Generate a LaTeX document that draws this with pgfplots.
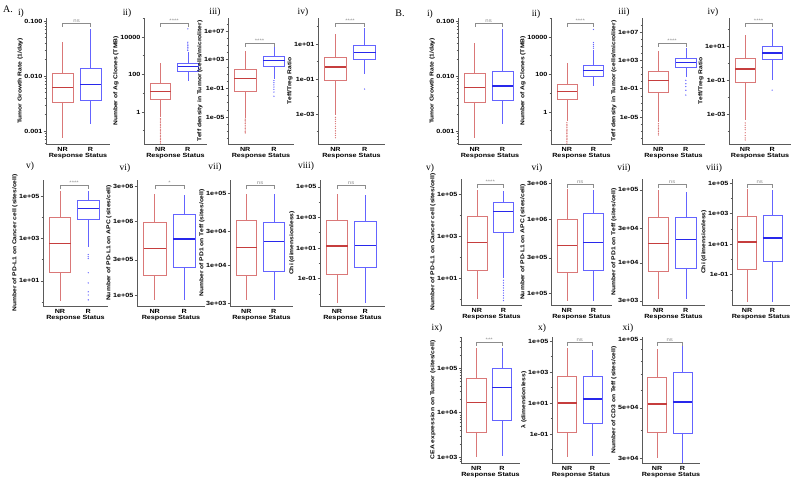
\documentclass[border=0pt]{standalone}
\usepackage{fontspec}
\setmainfont[FakeStretch=1.2]{Liberation Sans}
\newfontfamily\serf{Liberation Serif}
\usepackage{pgfplots}
\pgfplotsset{compat=1.18}
\usepgfplotslibrary{statistics}
\definecolor{nrc}{RGB}{218,120,120}
\definecolor{nrd}{RGB}{198,62,62}
\definecolor{rc}{RGB}{100,100,255}
\definecolor{rd}{RGB}{40,40,235}
\definecolor{sigc}{RGB}{140,140,140}
\definecolor{axc}{RGB}{90,90,90}
% values are log10 of the plotted quantities; tick labels give the original scale
\pgfplotsset{
 pan/.style={anchor=south west, scale only axis, height=126pt,
   xmin=0.4, xmax=2.7, xtick={1,2}, xticklabels={NR,R}, xlabel={Response Status},
   axis x line*=bottom, axis y line*=left,
   axis line style={-, axc, line width=0.5pt},
   tick align=outside, major tick length=2.4pt, minor tick length=1.3pt,
   xtick style={draw=none}, ytick style={axc, line width=0.4pt},
   ticklabel style={font=\bfseries\fontsize{6}{6}\selectfont, inner sep=1pt},
   xlabel style={font=\bfseries\fontsize{6}{6}\selectfont, inner sep=0.5pt},
   ylabel style={font=\bfseries\fontsize{5.6}{6}\selectfont, inner sep=0.5pt},
   boxplot/draw direction=y,
   clip=false},
 nr/.style={color=nrc, draw=nrc, line width=0.6pt, boxplot/draw direction=y, boxplot/box extend=0.75, boxplot/whisker extend=0,
   boxplot/every median/.style={draw=nrd, line width=1.1pt}},
 rr/.style={color=rc, draw=rc, line width=0.6pt, boxplot/draw direction=y, boxplot/box extend=0.75, boxplot/whisker extend=0,
   boxplot/every median/.style={draw=rd, line width=1.1pt}},
 nro/.style={color=nrc, only marks, mark=*, mark size=0.4pt, mark options={draw=none, fill=nrc, fill opacity=0.6}},
 ro/.style={color=rc, only marks, mark=*, mark size=0.4pt, mark options={draw=none, fill=rc, fill opacity=0.6}},
}
\newcommand{\bNR}[5]{\addplot[nr, boxplot prepared={draw position=1, lower whisker=#1, lower quartile=#2, median=#3, upper quartile=#4, upper whisker=#5}] coordinates {};}
\newcommand{\bR}[5]{\addplot[rr, boxplot prepared={draw position=2, lower whisker=#1, lower quartile=#2, median=#3, upper quartile=#4, upper whisker=#5}] coordinates {};}
\newcommand{\sig}[3]{%
 \draw[sigc, line width=0.4pt] (rel axis cs:0.2609,#3) -- (rel axis cs:0.2609,#2) -- (rel axis cs:0.6957,#2) -- (rel axis cs:0.6957,#3);
 \node[sigc, font=\fontsize{5}{5}\selectfont, anchor=south, inner sep=0.6pt] at (rel axis cs:0.4783,#2) {#1};}
\newcommand{\plab}[3]{\node[font=\serf\fontsize{9.5}{10}\selectfont, inner sep=0pt] at (#1pt,-#2pt) {#3};}
\begin{document}
\begin{tikzpicture}
\useasboundingbox (0,0) rectangle (792pt,-480pt);
\node[font=\serf\fontsize{10}{10}\selectfont, inner sep=0pt] at (8pt,-9pt) {A.};
\node[font=\serf\fontsize{10}{10}\selectfont, inner sep=0pt] at (400pt,-13pt) {B.};
\plab{21}{13}{i)}\plab{127}{13}{ii)}\plab{215}{12}{iii)}\plab{303}{12}{iv)}
\plab{30}{166}{v)}\plab{125}{168}{vi)}\plab{215}{167}{vii)}\plab{306}{166}{viii)}
\plab{430}{14}{i)}\plab{536}{14}{ii)}\plab{624}{12}{iii)}\plab{713}{12}{iv)}
\plab{430}{168}{v)}\plab{537}{168}{vi)}\plab{624}{168}{vii)}\plab{714}{168}{viii)}
\plab{437}{328}{ix)}\plab{542}{328}{x)}\plab{628}{328}{xi)}

% ---------------- A i
\begin{axis}[pan, at={(46pt,-144pt)}, width=64pt, ymin=-3.236, ymax=-0.945,
  ytick={-3,-2,-1}, yticklabels={0.001,0.010,0.100},
  minor ytick={-3.222,-3.155,-3.097,-3.046,-2.699,-2.523,-2.398,-2.301,-2.222,-2.155,-2.097,-2.046,-1.699,-1.523,-1.398,-1.301,-1.222,-1.155,-1.097,-1.046},
  ylabel={Tumor Growth Rate (1/day)}]
\bNR{-3.131}{-2.469}{-2.201}{-1.947}{-1.387}
\bR{-2.870}{-2.444}{-2.161}{-1.854}{-1.149}
\sig{ns}{0.96}{0.93}
\end{axis}
% ---------------- A ii
\begin{axis}[pan, at={(144pt,-144pt)}, width=63pt, ymin=-1.71, ymax=5.01,
  ytick={0,2,4}, yticklabels={1,100,10000}, minor ytick={-1,1,3,5},
  ylabel={Number of Ag Clones (TMB)}]
\bNR{-0.27}{0.70}{1.11}{1.54}{2.61}
\addplot[nro] coordinates {(1,-0.35)(1,-0.42)(1,-0.49)(1,-0.57)(1,-0.66)(1,-0.74)(1,-0.82)(1,-0.92)(1,-1.0)(1,-1.07)(1,-1.15)(1,-1.24)(1,-1.32)(1,-1.4)(1,-1.48)(1,-1.57)(1,-1.66)};
\bR{1.65}{2.19}{2.40}{2.60}{3.20}
\addplot[ro] coordinates {(2,3.28)(2,3.36)(2,3.45)(2,3.53)(2,3.62)(2,3.72)(2,4.43)};
\sig{****}{0.96}{0.93}
\end{axis}
% ---------------- A iii
\begin{axis}[pan, at={(228pt,-144pt)}, width=66pt, ymin=-8.77, ymax=8.81,
  ytick={-5,-1,3,7}, yticklabels={1e-05,1e-01,1e+03,1e+07},
  minor ytick={-8,-7,-6,-4,-3,-2,0,1,2,4,5,6,8},
  ylabel={Teff density in Tumor (cells/microliter)}]
\bNR{-5.1}{-1.42}{0.35}{1.60}{4.26}
\addplot[nro] coordinates {(1,-5.3)(1,-5.52)(1,-5.7)(1,-5.92)(1,-6.15)(1,-6.4)(1,-6.6)(1,-6.82)(1,-7.05)(1,-7.22)};
\bR{0.35}{2.02}{2.86}{3.40}{4.80}
\addplot[ro] coordinates {(2,0.08)(2,-0.22)(2,-0.52)(2,-0.82)(2,-1.15)(2,-1.52)(2,-2.1)};
\sig{****}{0.80}{0.77}
\end{axis}
% ---------------- A iv
\begin{axis}[pan, at={(318pt,-144pt)}, width=67pt, ymin=-4.71, ymax=2.49,
  ytick={-3,-1,1}, yticklabels={1e-03,1e-01,1e+01}, minor ytick={-4,-2,0,2},
  ylabel={Teff/Treg Ratio}]
\bNR{-3.06}{-1.06}{-0.31}{0.26}{1.57}
\addplot[nro] coordinates {(1,-3.19)(1,-3.3)(1,-3.42)(1,-3.55)(1,-3.7)(1,-3.82)(1,-3.96)(1,-4.1)(1,-4.22)(1,-4.35)};
\bR{-0.71}{0.14}{0.54}{0.94}{1.91}
\addplot[ro] coordinates {(2,-1.57)};
\sig{****}{0.96}{0.93}
\end{axis}
% ---------------- A v
\begin{axis}[pan, at={(43pt,-306pt)}, width=65pt, ymin=-0.19, ymax=5.76,
  ytick={1,3,5}, yticklabels={1e+01,1e+03,1e+05}, minor ytick={0,2,4},
  ylabel={Number of PD-L1 on Cancer cell (sites/cell)}]
\bNR{0.05}{1.38}{2.76}{4.0}{5.24}
\bR{2.62}{3.9}{4.43}{4.81}{5.24}
\addplot[ro] coordinates {(2,2.24)(2,2.14)(2,2.05)(2,1.38)(2,0.90)(2,0.48)(2,0.33)(2,0.10)};
\sig{****}{0.955}{0.925}
\end{axis}
% ---------------- A vi
\begin{axis}[pan, at={(137pt,-306pt)}, width=68pt, ymin=4.85, ymax=6.56,
  ytick={5,5.477,6,6.477}, yticklabels={1e+05,3e+05,1e+06,3e+06},
  ylabel={Number of PD-L1 on APC (sites/cell)}]
\bNR{4.93}{5.26}{5.63}{5.986}{6.37}
\bR{4.93}{5.37}{5.76}{6.09}{6.36}
\sig{*}{0.955}{0.925}
\end{axis}
% ---------------- A vii
\begin{axis}[pan, at={(230pt,-306pt)}, width=63pt, ymin=3.44, ymax=5.19,
  ytick={3.477,4,4.477,5}, yticklabels={3e+03,1e+04,3e+04,1e+05},
  ylabel={Number of PD1 on Teff (sites/cell)}]
\bNR{3.52}{3.86}{4.25}{4.63}{5.0}
\bR{3.52}{3.92}{4.33}{4.60}{4.99}
\sig{ns}{0.955}{0.925}
\end{axis}
% ---------------- A viii
\begin{axis}[pan, at={(320pt,-306pt)}, width=65pt, ymin=-2.8, ymax=5.45,
  ytick={-1,1,3,5}, yticklabels={1e-01,1e+01,1e+03,1e+05}, minor ytick={-2,0,2,4},
  ylabel={Chi (dimensionless)}]
\bNR{-2.6}{-0.74}{1.13}{2.8}{4.55}
\bR{-2.6}{-0.29}{1.19}{2.74}{4.48}
\sig{ns}{0.955}{0.925}
\end{axis}

% ================= B
\begin{axis}[pan, at={(458pt,-144pt)}, width=64pt, ymin=-3.236, ymax=-0.945,
  ytick={-3,-2,-1}, yticklabels={0.001,0.010,0.100},
  minor ytick={-3.222,-3.155,-3.097,-3.046,-2.699,-2.523,-2.398,-2.301,-2.222,-2.155,-2.097,-2.046,-1.699,-1.523,-1.398,-1.301,-1.222,-1.155,-1.097,-1.046},
  ylabel={Tumor Growth Rate (1/day)}]
\bNR{-3.131}{-2.469}{-2.215}{-1.947}{-1.398}
\bR{-2.870}{-2.444}{-2.181}{-1.910}{-1.149}
\sig{ns}{0.96}{0.93}
\end{axis}
% ---------------- B ii
\begin{axis}[pan, at={(551pt,-144pt)}, width=61pt, ymin=-1.71, ymax=5.01,
  ytick={0,2,4}, yticklabels={1,100,10000}, minor ytick={-1,1,3,5},
  ylabel={Number of Ag Clones (TMB)}]
\bNR{-0.5}{0.70}{1.10}{1.45}{2.60}
\addplot[nro] coordinates {(1,-0.57)(1,-0.66)(1,-0.74)(1,-0.82)(1,-0.92)(1,-1.0)(1,-1.07)(1,-1.15)(1,-1.24)(1,-1.32)(1,-1.4)(1,-1.48)(1,-1.57)(1,-1.66)};
\bR{1.40}{1.92}{2.19}{2.50}{3.30}
\addplot[ro] coordinates {(2,3.4)(2,3.5)(2,3.6)(2,3.7)(2,4.4)};
\sig{****}{0.96}{0.93}
\end{axis}
% ---------------- B iii
\begin{axis}[pan, at={(642pt,-144pt)}, width=63pt, ymin=-8.8, ymax=8.97,
  ytick={-5,-1,3,7}, yticklabels={1e-05,1e-01,1e+03,1e+07},
  minor ytick={-8,-7,-6,-4,-3,-2,0,1,2,4,5,6,8},
  ylabel={Teff density in Tumor (cells/microliter)}]
\bNR{-5.7}{-1.5}{0.18}{1.45}{4.27}
\addplot[nro] coordinates {(1,-5.92)(1,-6.15)(1,-6.4)(1,-6.6)(1,-6.82)(1,-7.05)(1,-7.3)(1,-7.52)};
\bR{0.7}{2.0}{2.7}{3.3}{4.8}
\addplot[ro] coordinates {(2,0.18)(2,-0.3)(2,-0.7)(2,-1.22)(2,-1.9)};
\sig{****}{0.80}{0.77}
\end{axis}
% ---------------- B iv
\begin{axis}[pan, at={(729pt,-144pt)}, width=62pt, ymin=-4.76, ymax=2.65,
  ytick={-3,-1,1}, yticklabels={1e-03,1e-01,1e+01}, minor ytick={-4,-2,0,2},
  ylabel={Teff/Treg Ratio}]
\bNR{-3.35}{-1.12}{-0.35}{0.29}{1.65}
\addplot[nro] coordinates {(1,-3.52)(1,-3.66)(1,-3.8)(1,-3.92)(1,-4.1)(1,-4.26)(1,-4.4)(1,-4.52)};
\bR{-1.0}{0.24}{0.59}{1.0}{2.0}
\addplot[ro] coordinates {(2,-1.59)};
\sig{****}{0.96}{0.93}
\end{axis}
% ---------------- B v
\begin{axis}[pan, at={(461pt,-305pt)}, width=61pt, ymin=-0.27, ymax=5.71,
  ytick={1,3,5}, yticklabels={1e+01,1e+03,1e+05}, minor ytick={0,2,4},
  ylabel={Number of PD-L1 on Cancer cell (sites/cell)}]
\bNR{0.0}{1.37}{2.7}{3.96}{5.19}
\bR{1.0}{3.2}{4.15}{4.62}{5.14}
\addplot[ro] coordinates {(2,0.9)(2,0.78)(2,0.66)(2,0.54)(2,0.42)(2,0.3)(2,0.18)(2,0.06)(2,-0.06)};
\sig{****}{0.955}{0.925}
\end{axis}
% ---------------- B vi
\begin{axis}[pan, at={(551pt,-305pt)}, width=61pt, ymin=4.84, ymax=6.54,
  ytick={5,5.477,6,6.477}, yticklabels={1e+05,3e+05,1e+06,3e+06},
  ylabel={Number of PD-L1 on APC (sites/cell)}]
\bNR{4.9}{5.28}{5.64}{6.0}{6.40}
\bR{4.9}{5.31}{5.68}{6.08}{6.39}
\sig{ns}{0.955}{0.925}
\end{axis}
% ---------------- B vii
\begin{axis}[pan, at={(642pt,-305pt)}, width=63pt, ymin=3.42, ymax=5.15,
  ytick={3.477,4,4.477,5}, yticklabels={3e+03,1e+04,3e+04,1e+05},
  ylabel={Number of PD1 on Teff (sites/cell)}]
\bNR{3.5}{3.88}{4.26}{4.62}{5.0}
\bR{3.5}{3.93}{4.32}{4.62}{4.97}
\sig{ns}{0.955}{0.925}
\end{axis}
% ---------------- B viii
\begin{axis}[pan, at={(732pt,-305pt)}, width=58pt, ymin=-3.0, ymax=5.26,
  ytick={-1,1,3,5}, yticklabels={1e-01,1e+01,1e+03,1e+05}, minor ytick={-2,0,2,4},
  ylabel={Chi (dimensionless)}]
\bNR{-2.8}{-0.68}{1.13}{2.8}{4.6}
\bR{-2.8}{-0.16}{1.39}{2.87}{4.55}
\sig{ns}{0.955}{0.925}
\end{axis}
% ---------------- B ix
\begin{axis}[pan, at={(461pt,-463pt)}, width=59pt, ymin=2.87, ymax=5.7,
  ytick={3,4,5}, yticklabels={1e+03,1e+04,1e+05},
  minor ytick={2.903,2.954,3.301,3.477,3.602,3.699,3.778,3.845,3.903,3.954,4.301,4.477,4.602,4.699,4.778,4.845,4.903,4.954,5.301,5.477,5.602,5.699},
  ylabel={CEA expression on Tumor (sites/cell)}]
\bNR{3.0}{3.57}{4.22}{4.78}{5.45}
\bR{3.02}{3.82}{4.56}{5.0}{5.45}
\sig{***}{0.96}{0.93}
\end{axis}
% ---------------- B x
\begin{axis}[pan, at={(552pt,-463pt)}, width=58pt, ymin=-2.87, ymax=5.26,
  ytick={-1,1,3,5}, yticklabels={1e-01,1e+01,1e+03,1e+05}, minor ytick={-2,0,2,4},
  ylabel={λ (dimensionless)}]
\bNR{-2.48}{-0.87}{1.0}{2.74}{4.55}
\bR{-2.42}{-0.29}{1.26}{2.74}{4.42}
\sig{ns}{0.96}{0.93}
\end{axis}
% ---------------- B xi
\begin{axis}[pan, at={(642pt,-463pt)}, width=58pt, ymin=4.458, ymax=5.009,
  ytick={4.477,4.699,5}, yticklabels={3e+04,5e+04,1e+05},
  minor ytick={4.602,4.778,4.845,4.903,4.954},
  ylabel={Number of CD3 on Teff (sites/cell)}]
\bNR{4.48}{4.594}{4.716}{4.834}{4.956}
\bR{4.46}{4.59}{4.725}{4.856}{4.97}
\sig{ns}{0.96}{0.93}
\end{axis}
\end{tikzpicture}
\end{document}
